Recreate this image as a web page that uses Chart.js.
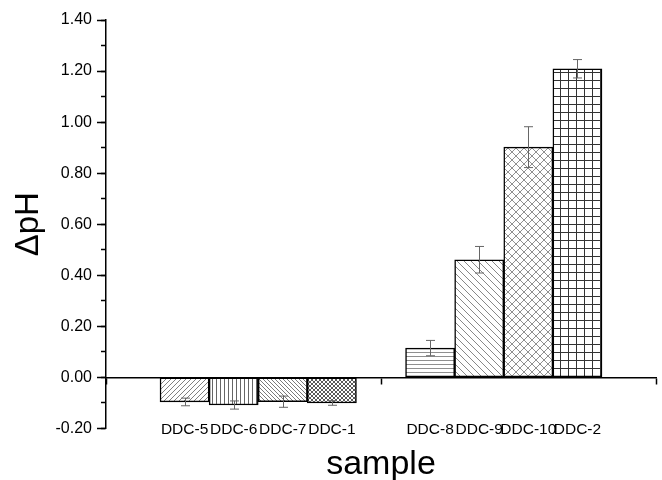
<!DOCTYPE html>
<html>
<head>
<meta charset="utf-8">
<script src="https://cdn.jsdelivr.net/npm/chart.js@4/dist/chart.umd.min.js"></script>
<style>
  html, body { margin: 0; padding: 0; background: #fff; }
  #wrap { width: 662px; height: 480px; }
</style>
</head>
<body>
<div id="wrap"><canvas id="chart" width="662" height="480"></canvas></div>
<script>
// --- data ---
const sampleNames = ['DDC-5', 'DDC-6', 'DDC-7', 'DDC-1', 'DDC-8', 'DDC-9', 'DDC-10', 'DDC-2'];
const sampleSlots = [1, 2, 3, 4, 6, 7, 8, 9];   // slot 5 is the gap between the two groups
const deltaPH     = [-0.096, -0.108, -0.095, -0.100, 0.115, 0.461, 0.902, 1.209];
const deltaErr    = [0.015, 0.016, 0.022, 0.009, 0.030, 0.052, 0.080, 0.036];
const groupLabels = ['group A', 'group B'];
const yMajorTicks = [-0.2, 0, 0.2, 0.4, 0.6, 0.8, 1.0, 1.2, 1.4];
const yMinorTicks = [-0.2, -0.1, 0, 0.1, 0.2, 0.3, 0.4, 0.5, 0.6, 0.7, 0.8, 0.9, 1.0, 1.1, 1.2, 1.3, 1.4];

const X_MIN = -0.6, X_MAX = 10.6;
const Y_MIN = -0.2, Y_MAX = 1.4;

// --- hatch patterns (one per bar) ---
function hatch(size, color, draw) {
    const c = document.createElement('canvas');
    c.width = size; c.height = size;
    const g = c.getContext('2d');
    g.fillStyle = '#fff';
    g.fillRect(0, 0, size, size);
    g.strokeStyle = color;
    g.lineWidth = 1;
    g.beginPath();
    draw(g, size);
    g.stroke();
    return g.createPattern(c, 'repeat');
}
function slash(g, s) {      // "/"
    g.moveTo(0, s); g.lineTo(s, 0);
    g.moveTo(-1, 1); g.lineTo(1, -1);
    g.moveTo(s - 1, s + 1); g.lineTo(s + 1, s - 1);
}
function backslash(g, s) {  // "\"
    g.moveTo(0, 0); g.lineTo(s, s);
    g.moveTo(-1, s - 1); g.lineTo(1, s + 1);
    g.moveTo(s - 1, -1); g.lineTo(s + 1, 1);
}
function vertical(g, s) { g.moveTo(0.5, 0); g.lineTo(0.5, s); }
function horizontal(g, s) { g.moveTo(0, 0.5); g.lineTo(s, 0.5); }
function cross(g, s) { slash(g, s); backslash(g, s); }
function grid(g, s) { vertical(g, s); horizontal(g, s); }

const barFills = [
    hatch(5, '#808080', slash),
    hatch(4, '#666666', vertical),
    hatch(4, '#7a7a7a', backslash),
    hatch(4, '#5a5a5a', cross),
    hatch(4, '#8f8f8f', horizontal),
    hatch(7, '#888888', backslash),
    hatch(8, '#909090', cross),
    hatch(8, '#333333', grid)
];

// --- error bars drawn over the bars ---
const errorBars = {
    id: 'errorBars',
    afterDatasetsDraw(chart) {
        const ctx = chart.ctx;
        const y = chart.scales.y;
        const meta = chart.getDatasetMeta(0);
        ctx.save();
        ctx.strokeStyle = '#666';
        ctx.lineWidth = 1;
        meta.data.forEach((bar, i) => {
            const top = y.getPixelForValue(deltaPH[i] + deltaErr[i]);
            const bot = y.getPixelForValue(deltaPH[i] - deltaErr[i]);
            const x = Math.round(bar.x) + 0.5;
            ctx.beginPath();
            ctx.moveTo(x, top); ctx.lineTo(x, bot);
            ctx.moveTo(x - 4.5, top); ctx.lineTo(x + 4.5, top);
            ctx.moveTo(x - 4.5, bot); ctx.lineTo(x + 4.5, bot);
            ctx.stroke();
        });
        ctx.restore();
    }
};

const fontFamily = '"Liberation Sans", Arial, sans-serif';

new Chart(document.getElementById('chart'), {
    type: 'bar',
    data: {
        datasets: [{
            data: sampleSlots.map((s, i) => ({ x: s, y: deltaPH[i] })),
            backgroundColor: barFills,
            borderColor: '#000',
            borderWidth: 1.5,
            borderSkipped: false,
            categoryPercentage: 1,
            barPercentage: 1
        }]
    },
    options: {
        responsive: false,
        animation: false,
        layout: { padding: { top: 20, right: 6, left: 0, bottom: 51.5 } },
        plugins: { legend: { display: false }, tooltip: { enabled: false } },
        scales: {
            // sample names, hung from the bottom of the plot so they are not clipped
            x: {
                type: 'linear',
                position: { y: Y_MIN },
                offset: false,
                min: X_MIN,
                max: X_MAX,
                grid: { display: false, offset: false },
                border: { display: false },
                afterBuildTicks: s => { s.ticks = sampleSlots.map(v => ({ value: v })); },
                afterFit: s => { s.height = 51.5; },
                ticks: {
                    autoSkip: false,
                    maxRotation: 0,
                    padding: -16,
                    color: '#000',
                    font: { family: fontFamily, size: 15.5 },
                    callback: v => {
                        const i = sampleSlots.indexOf(v);
                        return i >= 0 ? sampleNames[i] : '';
                    }
                },
                title: {
                    display: true,
                    text: 'sample',
                    color: '#000',
                    font: { family: fontFamily, size: 34 },
                    padding: { top: 0, bottom: -5 }
                }
            },
            // zero line with the two group ticks
            xg: {
                type: 'category',
                labels: groupLabels,
                offset: true,
                position: { y: 0 },
                grid: { offset: true, drawOnChartArea: false, tickLength: 6, tickColor: '#000', tickWidth: 1.5 },
                border: { display: true, color: '#000', width: 1.5 },
                ticks: { display: false },
                afterFit: s => { s.height = 0; }
            },
            y: {
                type: 'linear',
                position: 'left',
                min: Y_MIN,
                max: Y_MAX,
                afterBuildTicks: s => { s.ticks = yMajorTicks.map(v => ({ value: v })); },
                afterFit: s => { s.width = 106; },
                grid: { display: true, drawOnChartArea: false, tickLength: 9, tickColor: '#000', tickWidth: 1.5 },
                border: { display: true, color: '#000', width: 1.5 },
                ticks: {
                    padding: 5,
                    color: '#000',
                    font: { family: fontFamily, size: 16 },
                    callback: v => Number(v).toFixed(2)
                },
                title: {
                    display: true,
                    text: 'ΔpH',
                    color: '#000',
                    font: { family: fontFamily, size: 33 },
                    padding: { top: 9, bottom: 0 }
                }
            },
            // minor ticks on the y axis
            ym: {
                type: 'linear',
                position: { x: X_MIN },
                min: Y_MIN,
                max: Y_MAX,
                afterBuildTicks: s => { s.ticks = yMinorTicks.map(v => ({ value: v })); },
                afterFit: s => { s.width = 0; },
                grid: { drawOnChartArea: false, tickLength: 5, tickColor: '#000', tickWidth: 1.5 },
                border: { display: false },
                ticks: { display: false }
            }
        }
    },
    plugins: [errorBars]
});
</script>
</body>
</html>
